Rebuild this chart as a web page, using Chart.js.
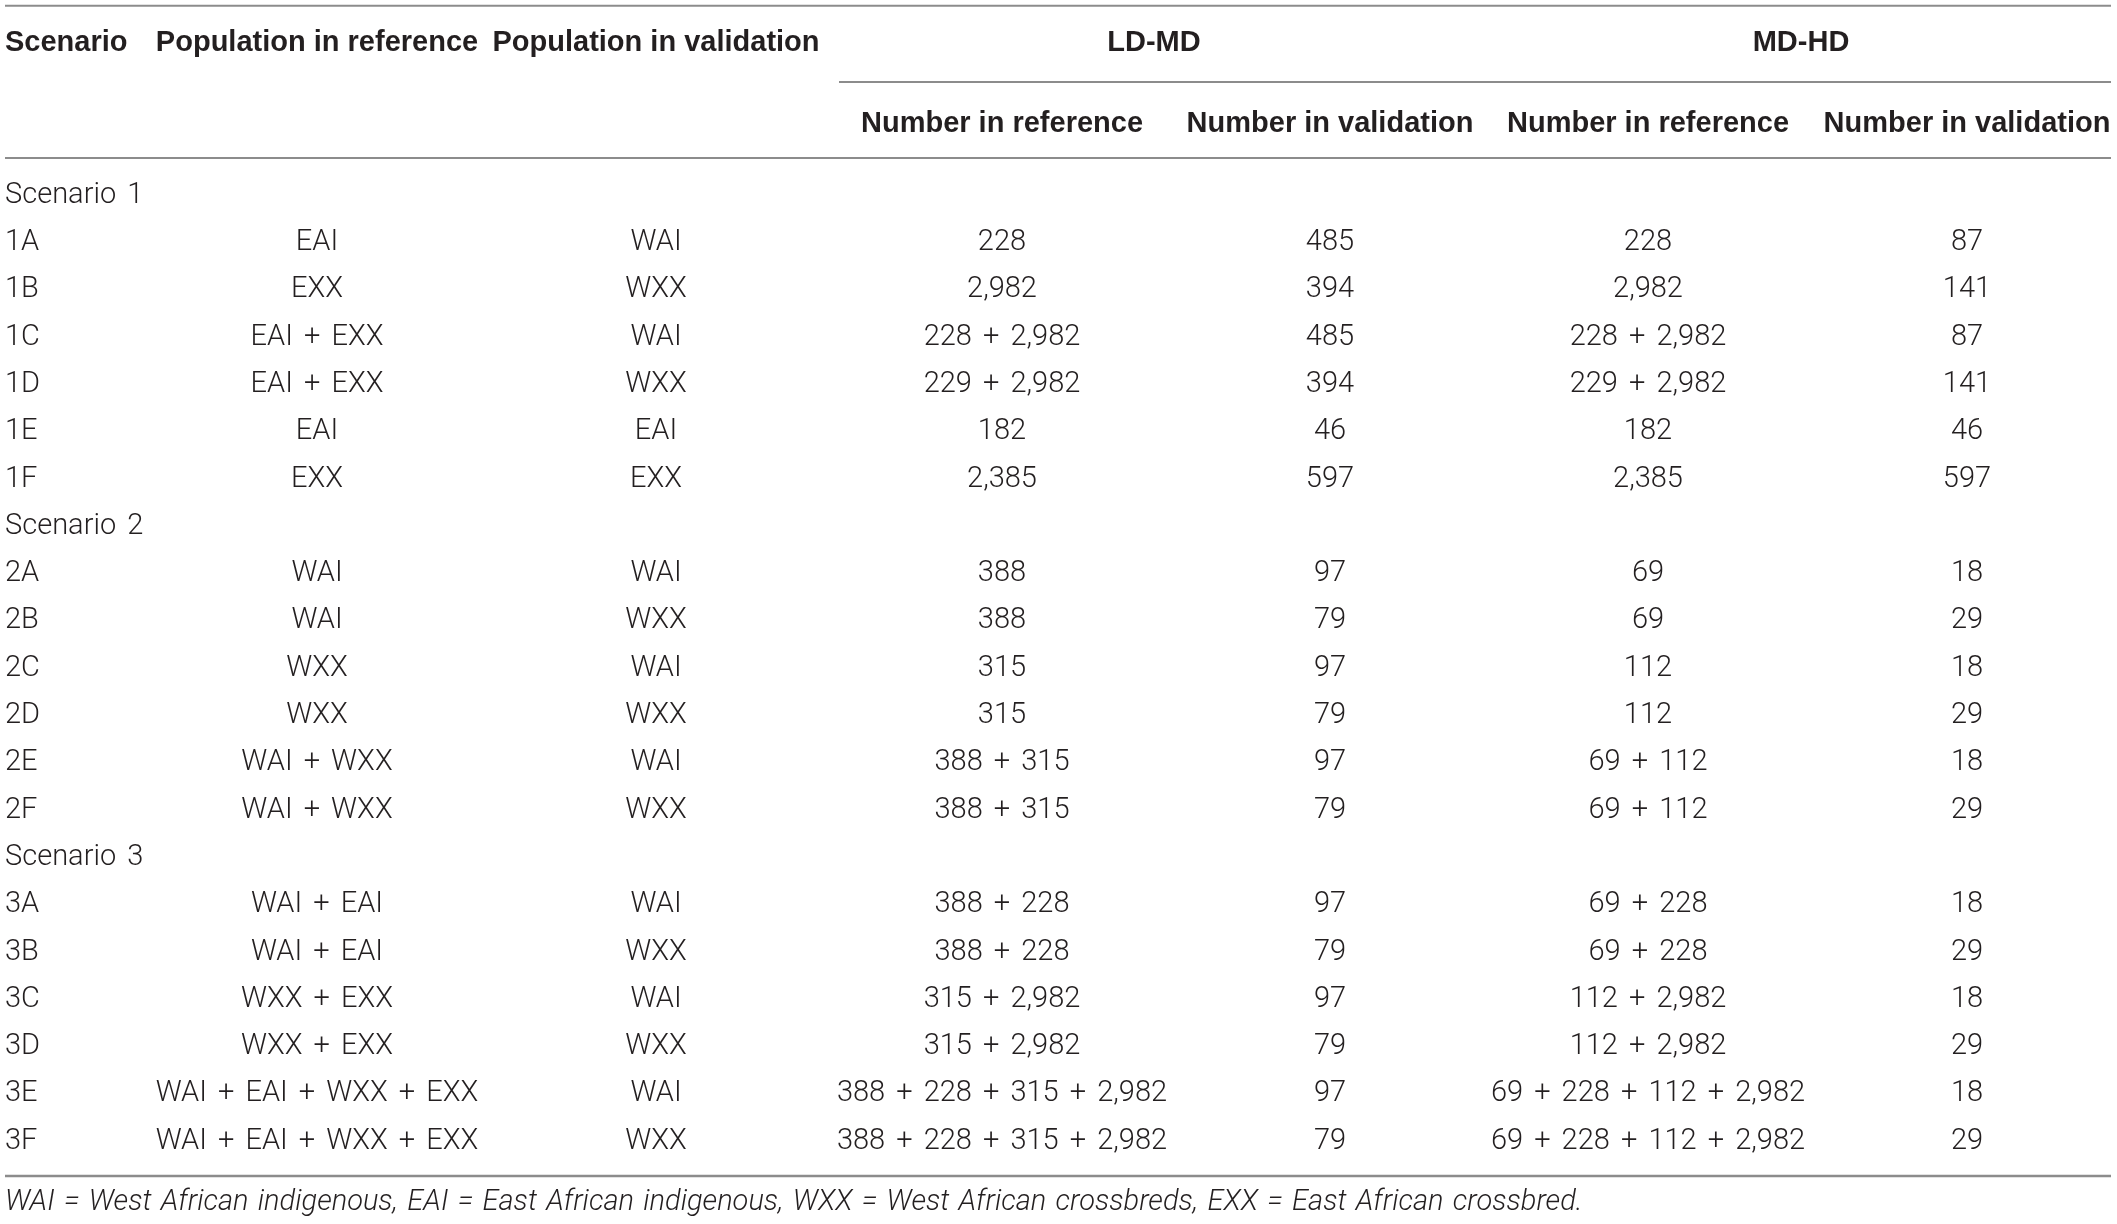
<!DOCTYPE html>
<html>
<head>
<meta charset="utf-8">
<script src="https://cdn.jsdelivr.net/npm/chart.js@4/dist/chart.umd.min.js"></script>
<style>
html,body{margin:0;padding:0;background:#fff;}
#wrap{width:2117px;height:1224px;position:relative;}
</style>
</head>
<body>
<div id="wrap"><canvas id="c"></canvas></div>
<script>
// ---------------- DATA ----------------
const groupHeaders = ['LD-MD', 'MD-HD'];
const columnHeaders = ['Scenario', 'Population in reference', 'Population in validation',
  'Number in reference', 'Number in validation', 'Number in reference', 'Number in validation'];
const rowLabels = ['Scenario 1','1A','1B','1C','1D','1E','1F',
  'Scenario 2','2A','2B','2C','2D','2E','2F',
  'Scenario 3','3A','3B','3C','3D','3E','3F'];
const popReference = ['','EAI','EXX','EAI + EXX','EAI + EXX','EAI','EXX',
  '','WAI','WAI','WXX','WXX','WAI + WXX','WAI + WXX',
  '','WAI + EAI','WAI + EAI','WXX + EXX','WXX + EXX','WAI + EAI + WXX + EXX','WAI + EAI + WXX + EXX'];
const popValidation = ['','WAI','WXX','WAI','WXX','EAI','EXX',
  '','WAI','WXX','WAI','WXX','WAI','WXX',
  '','WAI','WXX','WAI','WXX','WAI','WXX'];
const ldmdReference = ['','228','2,982','228 + 2,982','229 + 2,982','182','2,385',
  '','388','388','315','315','388 + 315','388 + 315',
  '','388 + 228','388 + 228','315 + 2,982','315 + 2,982','388 + 228 + 315 + 2,982','388 + 228 + 315 + 2,982'];
const ldmdValidation = ['','485','394','485','394','46','597',
  '','97','79','97','79','97','79',
  '','97','79','97','79','97','79'];
const mdhdReference = ['','228','2,982','228 + 2,982','229 + 2,982','182','2,385',
  '','69','69','112','112','69 + 112','69 + 112',
  '','69 + 228','69 + 228','112 + 2,982','112 + 2,982','69 + 228 + 112 + 2,982','69 + 228 + 112 + 2,982'];
const mdhdValidation = ['','87','141','87','141','46','597',
  '','18','29','18','29','18','29',
  '','18','29','18','29','18','29'];
const footnote = 'WAI = West African indigenous, EAI = East African indigenous, WXX = West African crossbreds, EXX = East African crossbred.';

// ---------------- LAYOUT (positions/styles) ----------------
const columns = [rowLabels, popReference, popValidation, ldmdReference, ldmdValidation, mdhdReference, mdhdValidation];
const colX = [5, 317, 656, 1002, 1330, 1648, 1967];
const colAlign = ['left','center','center','center','center','center','center'];
const groupX = [1154, 1801];
const headerRowY = -3.235, subHeaderRowY = -1.522, footY = 21.29;
const rules = [{y:-4.0, from:5, w:2}, {y:-2.389, from:839, w:2}, {y:-0.782, from:5, w:2}, {y:20.74, from:5, w:2.5}];
const ruleEnd = 2111;
const TEXT_SHIFT = 0.5;
const BODY_FONT = '300 29px Roboto, "Liberation Sans", Arial, sans-serif';
const BODY_WORDSPACE = '4px';
const BOLD_FONT = 'bold 29px "Liberation Sans", Arial, sans-serif';
const ITAL_FONT = 'italic 300 29px Roboto, "Liberation Sans", Arial, sans-serif';
const FOOT_WORDSPACE = '2.3px';
const TEXT_COLOR = '#231f20';
const RULE_COLOR = '#8c8c8c';

// build datasets: one scatter dataset per column, one point per row
const datasets = columns.map((col, ci) => ({
  label: columnHeaders[ci],
  data: col.map((_, ri) => ({x: colX[ci], y: ri})),
  texts: col,
  align: colAlign[ci],
  pointRadius: 0,
  pointHoverRadius: 0,
  showLine: false
}));

const tablePlugin = {
  id: 'tableText',
  afterDatasetsDraw(chart) {
    const ctx = chart.ctx;
    const xs = chart.scales.x, ys = chart.scales.y;
    ctx.save();
    ctx.strokeStyle = RULE_COLOR;
    rules.forEach(r => {
      ctx.lineWidth = r.w;
      const py = ys.getPixelForValue(r.y);
      ctx.beginPath();
      ctx.moveTo(xs.getPixelForValue(r.from), py);
      ctx.lineTo(xs.getPixelForValue(ruleEnd), py);
      ctx.stroke();
    });
    ctx.fillStyle = TEXT_COLOR;
    ctx.textBaseline = 'middle';
    ctx.font = BOLD_FONT;
    [0,1,2].forEach(ci => {
      ctx.textAlign = colAlign[ci];
      ctx.fillText(columnHeaders[ci], xs.getPixelForValue(colX[ci]), ys.getPixelForValue(headerRowY) + TEXT_SHIFT);
    });
    groupHeaders.forEach((g, gi) => {
      ctx.textAlign = 'center';
      ctx.fillText(g, xs.getPixelForValue(groupX[gi]), ys.getPixelForValue(headerRowY) + TEXT_SHIFT);
    });
    [3,4,5,6].forEach(ci => {
      ctx.textAlign = 'center';
      ctx.fillText(columnHeaders[ci], xs.getPixelForValue(colX[ci]), ys.getPixelForValue(subHeaderRowY) + TEXT_SHIFT);
    });
    ctx.font = BODY_FONT;
    if ('wordSpacing' in ctx) ctx.wordSpacing = BODY_WORDSPACE;
    chart.data.datasets.forEach((ds, di) => {
      const meta = chart.getDatasetMeta(di);
      ctx.textAlign = ds.align;
      meta.data.forEach((pt, i) => {
        const t = ds.texts[i];
        if (t) ctx.fillText(t, pt.x, pt.y + TEXT_SHIFT);
      });
    });
    ctx.font = ITAL_FONT;
    if ('wordSpacing' in ctx) ctx.wordSpacing = FOOT_WORDSPACE;
    ctx.textAlign = 'left';
    ctx.fillText(footnote, xs.getPixelForValue(5), ys.getPixelForValue(footY) + TEXT_SHIFT);
    ctx.restore();
  }
};

new Chart(document.getElementById('c'), {
  type: 'scatter',
  data: { datasets },
  options: {
    responsive: true,
    maintainAspectRatio: false,
    animation: false,
    layout: { padding: 0 },
    plugins: { legend: {display:false}, tooltip: {enabled:false} },
    events: [],
    scales: {
      x: { type:'linear', display:false, min:0, max:2117 },
      y: { type:'linear', display:false, reverse:true, min:-4.123, max:21.754 }
    }
  },
  plugins: [tablePlugin]
});
</script>
</body>
</html>
